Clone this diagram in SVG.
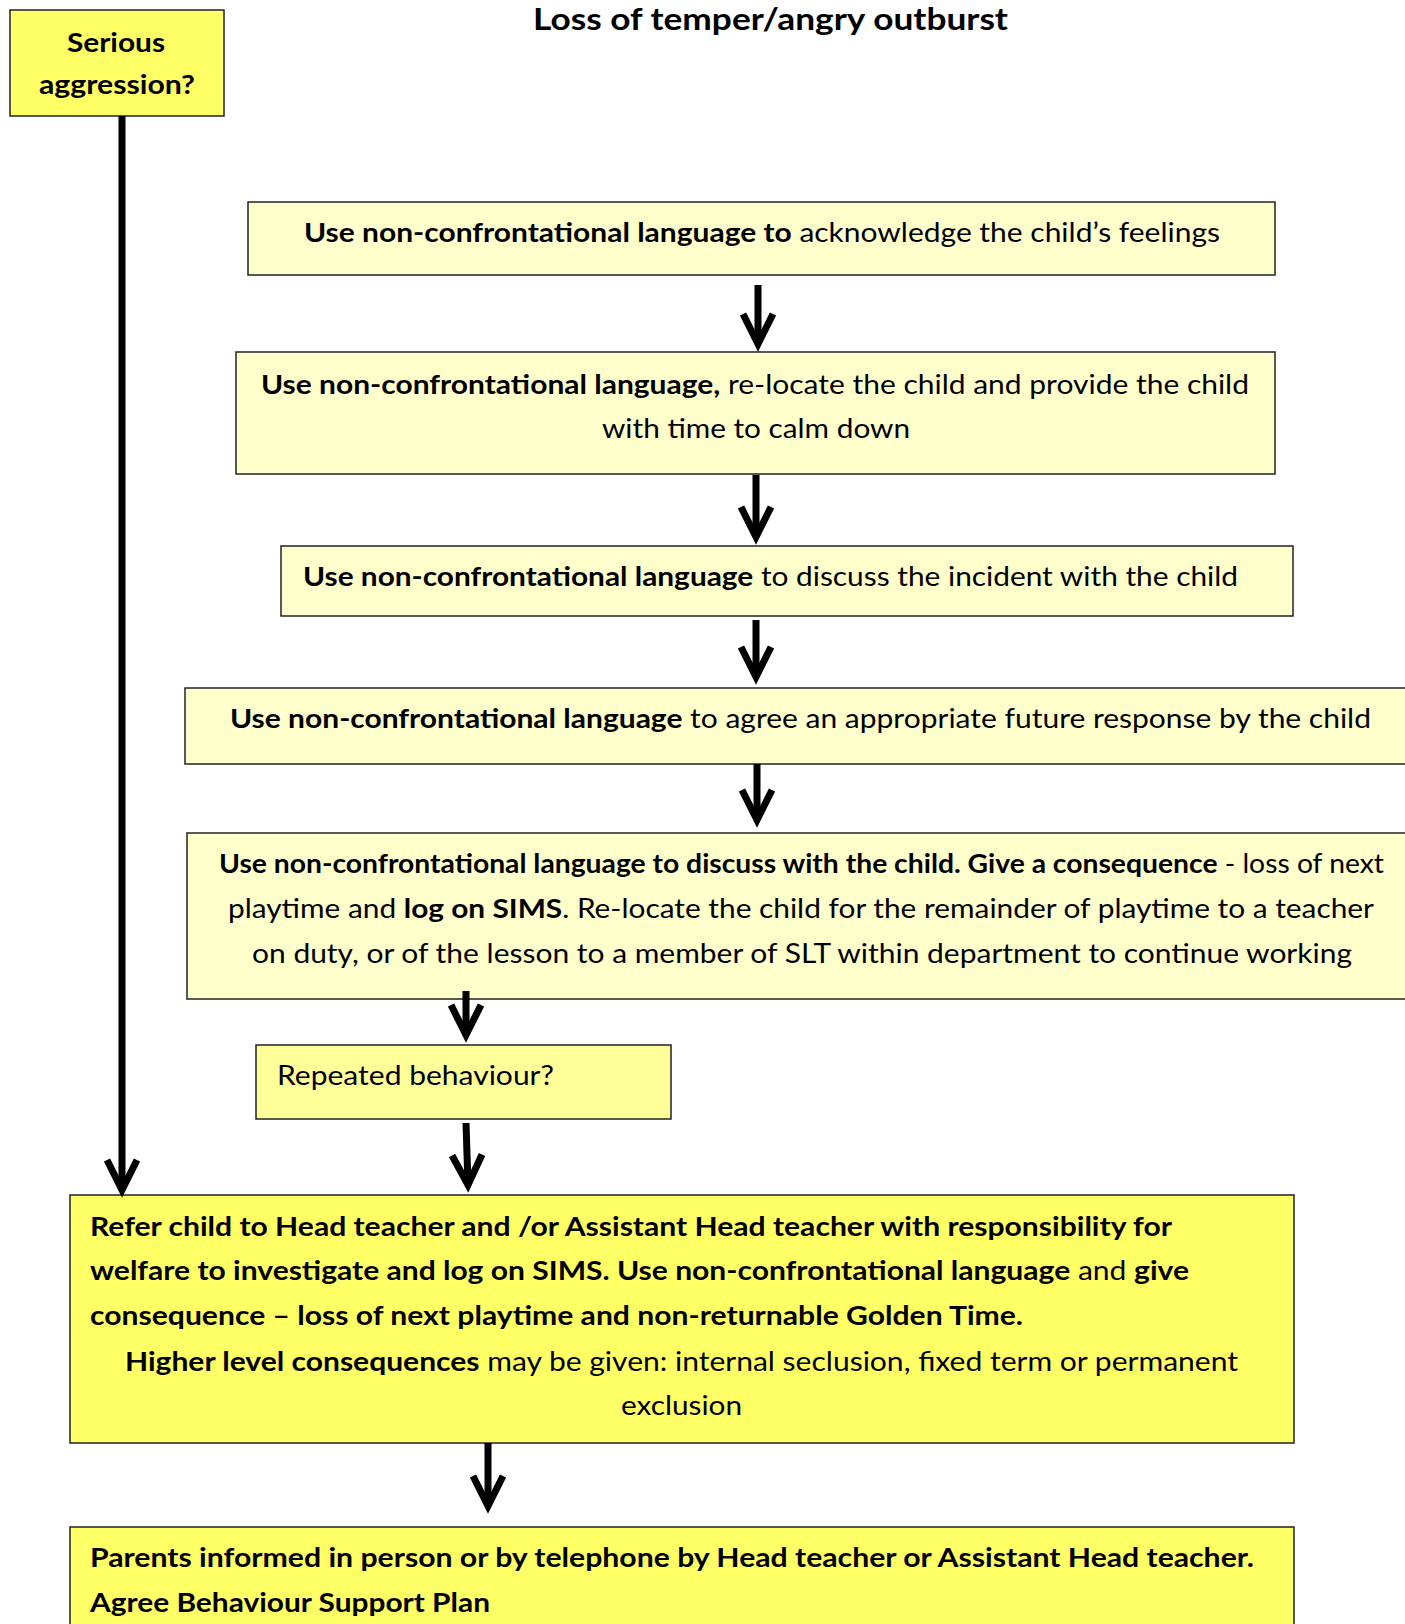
<svg xmlns="http://www.w3.org/2000/svg" width="1405" height="1624" viewBox="0 0 1405 1624">
<style>
text{font-family:Lato,"Open Sans","Liberation Sans",sans-serif;font-size:26px;fill:#000}
.b{font-weight:bold}
.title{font-size:30px;font-weight:bold}
.pale{fill:#FFFFCC;stroke:#222;stroke-width:1.5}
.bright{fill:#FFFF66;stroke:#222;stroke-width:1.5}
.mid{fill:#FFFF99;stroke:#222;stroke-width:1.5}
.conn{fill:none;stroke:#000;stroke-width:7;marker-end:url(#head)}
</style>
<defs>
<marker id="head" markerUnits="userSpaceOnUse" orient="auto" refX="0" refY="0" markerWidth="60" markerHeight="60" viewBox="-40 -25 60 50" overflow="visible">
<path d="M-30,-15 L0,0 L-30,15" fill="none" stroke="#000" stroke-width="7" stroke-linejoin="miter" stroke-miterlimit="10"/>
</marker>
</defs>
<rect width="1405" height="1624" fill="#fff"/>
<text class="title" x="533" y="30" textLength="475" lengthAdjust="spacingAndGlyphs">Loss of temper/angry outburst</text>

<g id="serious">
<rect class="bright" x="10" y="10" width="214" height="106"/>
<text class="b" x="67" y="52" textLength="98" lengthAdjust="spacingAndGlyphs">Serious</text>
<text class="b" x="39" y="94" textLength="156" lengthAdjust="spacingAndGlyphs">aggression?</text>
</g>

<g id="step1">
<rect class="pale" x="248" y="202" width="1027" height="73"/>
<text x="304" y="242" textLength="916" lengthAdjust="spacingAndGlyphs"><tspan class="b">Use non-confrontational language to</tspan> acknowledge the child’s feelings</text>
</g>

<g id="step2">
<rect class="pale" x="236" y="352" width="1039" height="122"/>
<text x="261" y="394" textLength="988" lengthAdjust="spacingAndGlyphs"><tspan class="b">Use non-confrontational language,</tspan> re-locate the child and provide the child</text>
<text x="602" y="438" textLength="308" lengthAdjust="spacingAndGlyphs">with time to calm down</text>
</g>

<g id="step3">
<rect class="pale" x="281" y="546" width="1012" height="70"/>
<text x="303" y="586" textLength="935" lengthAdjust="spacingAndGlyphs"><tspan class="b">Use non-confrontational language</tspan> to discuss the incident with the child</text>
</g>

<g id="step4">
<rect class="pale" x="185" y="688" width="1240" height="76"/>
<text x="230" y="728" textLength="1141" lengthAdjust="spacingAndGlyphs"><tspan class="b">Use non-confrontational language</tspan> to agree an appropriate future response by the child</text>
</g>

<g id="step5">
<rect class="pale" x="187" y="833" width="1240" height="166"/>
<text x="219" y="873" textLength="1165" lengthAdjust="spacingAndGlyphs"><tspan class="b">Use non-confrontational language to discuss with the child. Give a consequence</tspan> - loss of next</text>
<text x="228" y="918" textLength="1146" lengthAdjust="spacingAndGlyphs">playtime and <tspan class="b">log on SIMS</tspan>. Re-locate the child for the remainder of playtime to a teacher</text>
<text x="252" y="963" textLength="1100" lengthAdjust="spacingAndGlyphs">on duty, or of the lesson to a member of SLT within department to continue working</text>
</g>

<g id="repeated">
<rect class="mid" x="256" y="1045" width="415" height="74"/>
<text x="277" y="1085" textLength="277" lengthAdjust="spacingAndGlyphs">Repeated behaviour?</text>
</g>

<g id="refer">
<rect class="bright" x="70" y="1195" width="1224" height="248"/>
<text class="b" x="90" y="1236" textLength="1082" lengthAdjust="spacingAndGlyphs">Refer child to Head teacher and /or Assistant Head teacher with responsibility for</text>
<text x="90" y="1280" textLength="1099" lengthAdjust="spacingAndGlyphs"><tspan class="b">welfare to investigate and log on SIMS. Use non-confrontational language</tspan> and <tspan class="b">give</tspan></text>
<text class="b" x="90" y="1325" textLength="933" lengthAdjust="spacingAndGlyphs">consequence – loss of next playtime and non-returnable Golden Time.</text>
<text x="125" y="1371" textLength="1113" lengthAdjust="spacingAndGlyphs"><tspan class="b">Higher level consequences</tspan> may be given: internal seclusion, fixed term or permanent</text>
<text x="621" y="1415" textLength="121" lengthAdjust="spacingAndGlyphs">exclusion</text>
</g>

<g id="parents">
<rect class="bright" x="70" y="1527" width="1224" height="110"/>
<text class="b" x="90" y="1567" textLength="1164" lengthAdjust="spacingAndGlyphs">Parents informed in person or by telephone by Head teacher or Assistant Head teacher.</text>
<text class="b" x="90" y="1612" textLength="400" lengthAdjust="spacingAndGlyphs">Agree Behaviour Support Plan</text>
</g>

<g id="connectors">
<path class="conn" d="M758,285 L758,344"/>
<path class="conn" d="M756,475 L756,537"/>
<path class="conn" d="M756,620 L756,677"/>
<path class="conn" d="M757,764 L757,820"/>
<path class="conn" d="M466,991 L466,1035"/>
<path class="conn" d="M466,1123 L468,1185"/>
<path class="conn" d="M122,116 L122,1190"/>
<path class="conn" d="M488,1443 L488,1506"/>
</g>
</svg>
